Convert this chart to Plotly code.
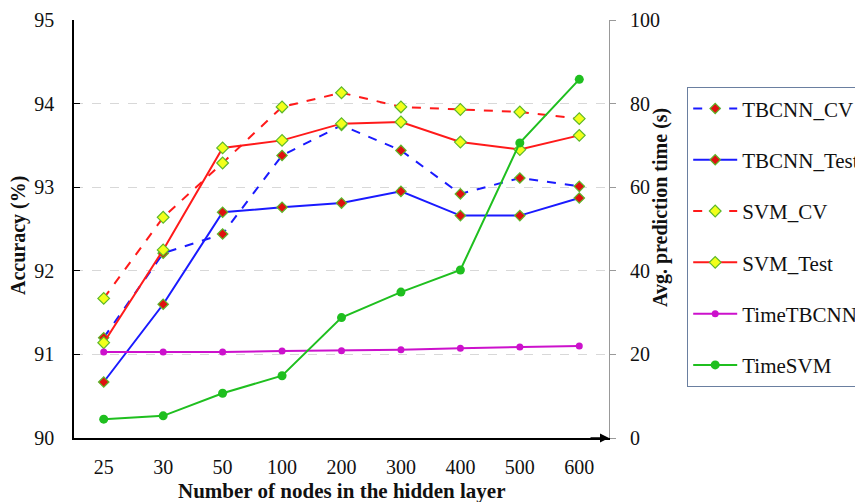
import plotly.graph_objects as go

nodes = ["25", "30", "50", "100", "200", "300", "400", "500", "600"]
tbcnn_cv = [91.20, 92.21, 92.44, 93.38, 93.74, 93.44, 92.92, 93.11, 93.01]
tbcnn_test = [90.67, 91.60, 92.70, 92.76, 92.81, 92.95, 92.66, 92.66, 92.87]
svm_cv = [91.67, 92.64, 93.29, 93.96, 94.13, 93.96, 93.93, 93.90, 93.82]
svm_test = [91.14, 92.25, 93.47, 93.56, 93.76, 93.78, 93.54, 93.45, 93.62]
time_tbcnn = [20.6, 20.6, 20.6, 20.8, 20.9, 21.1, 21.5, 21.8, 22.0]
time_svm = [4.5, 5.3, 10.7, 14.9, 28.8, 34.9, 40.2, 70.6, 85.8]

BLUE = "#1a1aff"
RED = "#ff1a1a"
MAG = "#cc11cc"
GRN = "#1fbf1f"
FONT = "Liberation Serif, Times New Roman, serif"

fig = go.Figure()

def tb_marker():
    return dict(symbol="diamond", size=8, color="#e01010", line=dict(color="#5cb82a", width=1.2))

def svm_marker():
    return dict(symbol="diamond", size=9, color="#f2ff1a", line=dict(color="#5cb82a", width=1.2))

fig.add_trace(go.Scatter(x=nodes, y=tbcnn_cv, name="TBCNN_CV", mode="lines+markers",
                         line=dict(color=BLUE, width=2, dash="dash"), marker=tb_marker(),
                         legendgroup="a"))
fig.add_trace(go.Scatter(x=nodes, y=tbcnn_test, name="TBCNN_Test", mode="lines+markers",
                         line=dict(color=BLUE, width=2), marker=tb_marker(), legendgroup="b"))
fig.add_trace(go.Scatter(x=nodes, y=svm_cv, name="SVM_CV", mode="lines+markers",
                         line=dict(color=RED, width=2, dash="dash"), marker=svm_marker(),
                         legendgroup="c"))
fig.add_trace(go.Scatter(x=nodes, y=svm_test, name="SVM_Test", mode="lines+markers",
                         line=dict(color=RED, width=2), marker=svm_marker(), legendgroup="d"))
fig.add_trace(go.Scatter(x=nodes, y=time_tbcnn, name="TimeTBCNN", mode="lines+markers",
                         line=dict(color=MAG, width=2), marker=dict(symbol="circle", size=7, color=MAG),
                         yaxis="y2", legendgroup="e"))
fig.add_trace(go.Scatter(x=nodes, y=time_svm, name="TimeSVM", mode="lines+markers",
                         line=dict(color=GRN, width=2), marker=dict(symbol="circle", size=9, color=GRN),
                         yaxis="y2", legendgroup="f"))

fig.update_layout(
    width=863, height=502,
    margin=dict(l=66, r=262, t=12, b=72, autoexpand=False),
    plot_bgcolor="white", paper_bgcolor="white",
    font=dict(family=FONT, size=20, color="#111"),
    xaxis=dict(type="category", range=[-0.5, 8.5], showline=True, linecolor="black", linewidth=1.5,
               ticks="", showgrid=False, zeroline=False, tickfont=dict(size=20),
               ticklabelstandoff=10),
    yaxis=dict(range=[90, 95], dtick=1, showline=True, linecolor="black", linewidth=1.5,
               ticks="inside", ticklen=6, tickcolor="black", showgrid=True, gridcolor="#d8d8d8",
               griddash="dash", gridwidth=1, zeroline=False, tickfont=dict(size=20),
               ticklabelstandoff=14),
    yaxis2=dict(range=[0, 100], dtick=20, overlaying="y", side="right", showline=True,
                linecolor="#999", linewidth=1.2, ticks="outside", ticklen=6, tickcolor="#999",
                showgrid=False, zeroline=False, tickfont=dict(size=20), ticklabelstandoff=10),
    legend=dict(x=1.1458, y=0.8395, xanchor="left", yanchor="top", bordercolor="#6a7fa0", borderwidth=1.2,
                bgcolor="white", font=dict(family=FONT, size=21), tracegroupgap=21,
                itemwidth=44),
    showlegend=True,
)

fig.add_annotation(x=1.0, y=0, xref="paper", yref="paper", ax=-20, ay=0, axref="pixel", ayref="pixel",
                   showarrow=True, arrowhead=2, arrowsize=1.2, arrowwidth=1.5, arrowcolor="black", text="")

fig.add_annotation(x=0.5, y=-0.127, xref="paper", yref="paper", showarrow=False,
                   text="<b>Number of nodes in the hidden layer</b>", font=dict(size=21),
                   xanchor="center", yanchor="middle")
fig.add_annotation(x=-0.1047, y=0.4856, xref="paper", yref="paper", showarrow=False, textangle=-90,
                   text="<b>Accuracy (%)</b>", font=dict(size=20), xanchor="center", yanchor="middle")
fig.add_annotation(x=1.0953, y=0.5526, xref="paper", yref="paper", showarrow=False, textangle=-90,
                   text="<b>Avg. prediction time (s)</b>", font=dict(size=20), xanchor="center",
                   yanchor="middle")

fig.write_html("out.html")
